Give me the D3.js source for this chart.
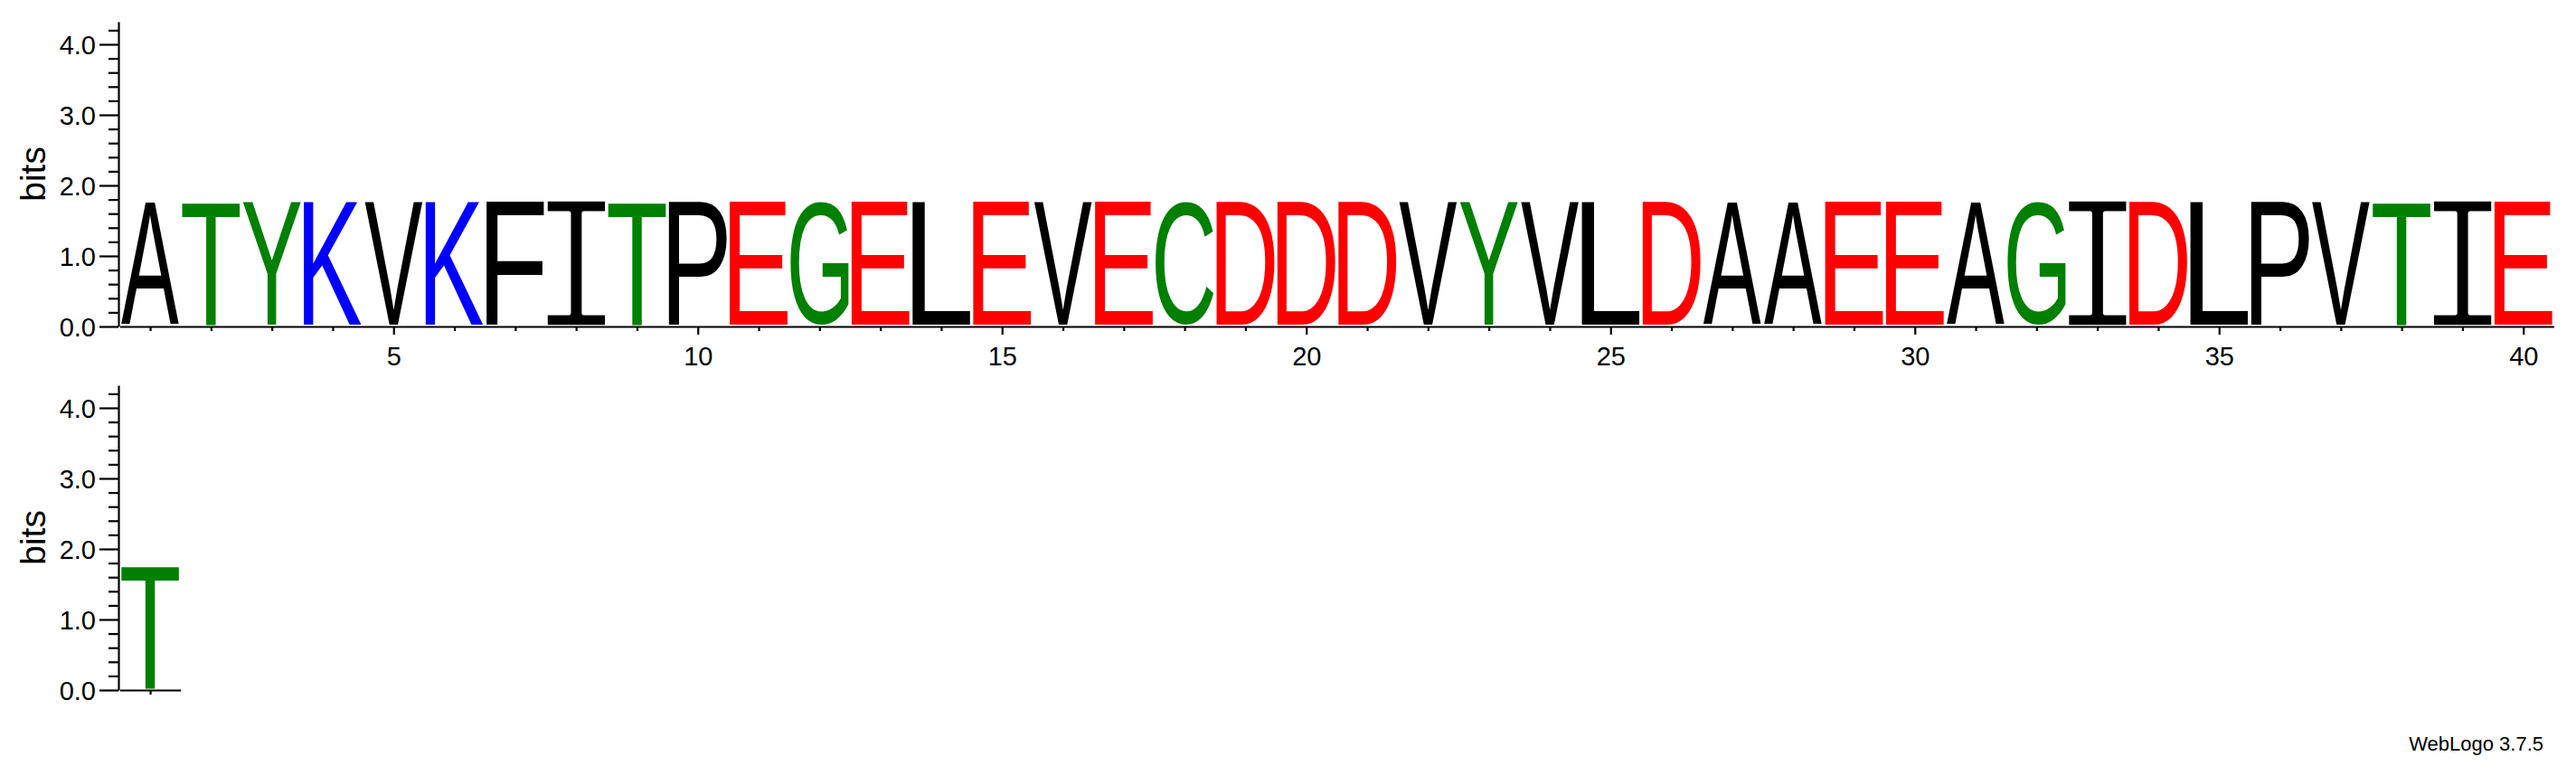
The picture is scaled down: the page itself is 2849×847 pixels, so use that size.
<!DOCTYPE html>
<html>
<head>
<meta charset="utf-8">
<script src="https://cdn.jsdelivr.net/npm/d3@7"></script>
<style>
  body { margin: 0; background: #fff; }
  svg { display: block; }
</style>
</head>
<body>
<svg id="chart" width="2849" height="847"></svg>
<script>
// sequence logo, two rows
const residues1 = ["A","T","Y","K","V","K","F","I","T","P",
                   "E","G","E","L","E","V","E","C","D","D",
                   "D","V","Y","V","L","D","A","A","E","E",
                   "A","G","I","D","L","P","V","T","I","E"];
const bits1 = [1.77,1.77,1.77,1.77,1.77,1.77,1.77,1.77,1.77,1.77,
               1.77,1.77,1.77,1.77,1.77,1.77,1.77,1.77,1.77,1.77,
               1.77,1.77,1.77,1.77,1.77,1.77,1.77,1.77,1.77,1.77,
               1.77,1.77,1.77,1.77,1.77,1.77,1.77,1.77,1.77,1.77];
const residues2 = ["T"];
const bits2 = [1.76];
const yMajor = [0, 1, 2, 3, 4];
const xLabelEvery = 5;

const colorOf = {
  A: "#000000", V: "#000000", L: "#000000", I: "#000000", F: "#000000",
  P: "#000000", M: "#000000", W: "#000000",
  T: "#008000", Y: "#008000", G: "#008000", C: "#008000", S: "#008000",
  Q: "#800080", N: "#800080",
  K: "#0000ff", R: "#0000ff", H: "#0000ff",
  D: "#ff0000", E: "#ff0000"
};

const svg = d3.select("#chart");
const labelFont = "'Liberation Sans', Arial, sans-serif";
const maxBits = Math.log2(20);
const colW = 67.3;
const axisX = 131;

// glyph ink bounds, measured once on a canvas
const ctx = document.createElement("canvas").getContext("2d");
const FS = 200;
function glyphFont(ch) {
  return ch === "I" ? "'DejaVu Sans Mono', monospace" : labelFont;
}
// the mono I is heavier than the reference one, so it gets thinned with a white outline
function thinning(ch) {
  return ch === "I" ? 5.5 : 0;
}
function inkBox(ch) {
  ctx.font = FS + "px " + glyphFont(ch);
  const m = ctx.measureText(ch);
  return { L: m.actualBoundingBoxLeft, R: m.actualBoundingBoxRight,
           A: m.actualBoundingBoxAscent, D: m.actualBoundingBoxDescent };
}

function drawRow(residues, bits, zeroY, showLabels) {
  const n = residues.length;
  const x = d3.scaleLinear().domain([0.5, n + 0.5]).range([132.4, 132.4 + n * colW]);
  const y = d3.scaleLinear().domain([0, maxBits]).range([zeroY, zeroY - maxBits * 78]);
  const g = svg.append("g");

  // letters (thinned I's go first so neighbours paint over their outline)
  const order = d3.range(n).sort((a, b) => thinning(residues[b]) - thinning(residues[a]) || a - b);
  order.forEach(i => {
    const ch = residues[i];
    const b = inkBox(ch);
    const t = thinning(ch);
    const x0 = x(i + 0.5) + 1.6, w = colW - 3.2;
    const yb = y(0) - 2, yt = y(bits[i]);
    const sx = w / (b.L + b.R - t), sy = (yb - yt) / (b.A + b.D - t);
    const txt = g.append("text")
      .attr("transform", `translate(${x0 + (b.L - t / 2) * sx},${yb - (b.D - t / 2) * sy}) scale(${sx},${sy})`)
      .attr("font-family", glyphFont(ch))
      .attr("font-size", FS)
      .attr("fill", colorOf[ch])
      .text(ch);
    if (t) txt.attr("stroke", "#fff").attr("stroke-width", t).attr("stroke-linejoin", "round");
  });

  // y axis: minor + major
  const minor = d3.range(0, 22).map(k => k * 0.2).filter(v => Math.abs(v - Math.round(v)) > 1e-6);
  g.append("g").attr("transform", `translate(${axisX},0)`)
    .call(d3.axisLeft(y).tickValues(minor).tickSize(11).tickFormat("").tickSizeOuter(0))
    .call(s => s.select(".domain").remove());
  const ya = g.append("g").attr("transform", `translate(${axisX},0)`)
    .call(d3.axisLeft(y).tickValues(yMajor).tickSize(21).tickPadding(4).tickSizeOuter(0).tickFormat(d3.format(".1f")));
  ya.selectAll("text").attr("font-family", labelFont).attr("font-size", 29).attr("fill", "#000").attr("dy", "0.36em");

  // x axis
  const xa = g.append("g").attr("transform", `translate(0,${y(0)})`)
    .call(d3.axisBottom(x).tickValues(d3.range(1, n + 1)).tickSizeOuter(0)
      .tickFormat(d => (showLabels && d % xLabelEvery === 0) ? d : ""));
  xa.selectAll(".tick line").attr("y2", d => d % xLabelEvery === 0 ? 9 : 5);
  xa.selectAll("text").attr("y", 22).attr("font-family", labelFont).attr("font-size", 29).attr("fill", "#000");

  g.selectAll(".domain, .tick line").attr("stroke", "#000").attr("stroke-width", 2.2);

  // "bits" label
  g.append("text")
    .attr("transform", `translate(50,${(y(0) + y(maxBits)) / 2}) rotate(-90)`)
    .attr("text-anchor", "middle")
    .attr("font-family", labelFont).attr("font-size", 39)
    .text("bits");
}

drawRow(residues1, bits1, 361, true);
drawRow(residues2, bits2, 763, false);

svg.append("text")
  .attr("x", 2813).attr("y", 830)
  .attr("text-anchor", "end")
  .attr("font-family", labelFont).attr("font-size", 22)
  .text("WebLogo 3.7.5");
</script>
</body>
</html>
